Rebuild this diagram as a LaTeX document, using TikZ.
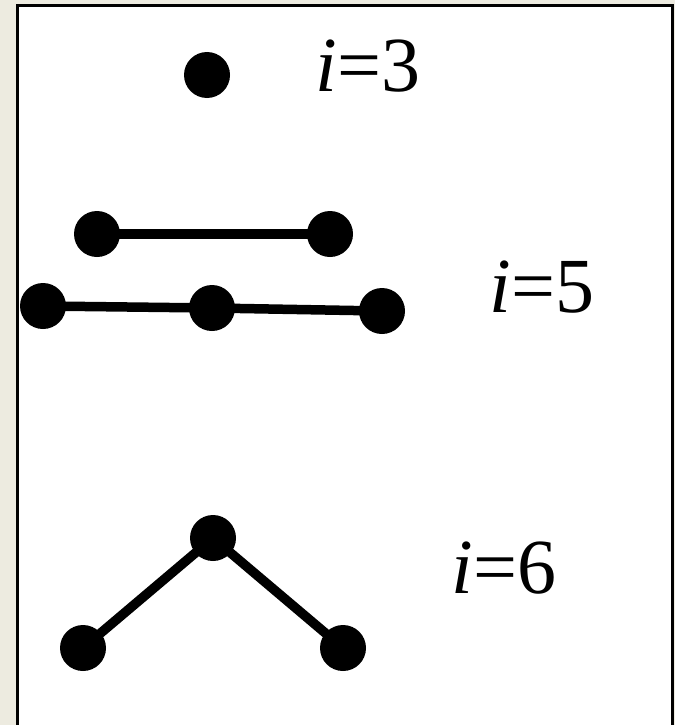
\documentclass[tikz,border=0pt]{standalone}
\usepackage{fontspec}
\setmainfont{Liberation Serif}
\definecolor{bgbeige}{RGB}{237,235,224}
\begin{document}
\begin{tikzpicture}[x=1pt,y=-1pt,
  dot/.style={circle,fill=black,inner sep=0pt,minimum size=46pt},
  edge/.style={line width=9.5pt},
  lbl/.style={anchor=base,inner sep=0pt,font=\fontsize{78}{80}\selectfont}]
\useasboundingbox (0,0) rectangle (675,725);
\clip (0,0) rectangle (675,725);
\fill[bgbeige] (0,0) rectangle (675,725);
\draw[line width=3pt,fill=white] (17,6) rectangle (672.5,740);
% i=3
\node[dot] (a) at (207,75) {};
\node[lbl] (la) at (368,92) {\textit{i}=3};
% i=5
\node[dot] (b1) at (97,234) {};
\node[dot] (b2) at (330,234) {};
\node[dot] (c1) at (43,306) {};
\node[dot] (c2) at (212,308) {};
\node[dot] (c3) at (382,311) {};
\draw[edge] (b1.center) -- (b2.center);
\draw[edge] (c1.center) -- (c2.center) -- (c3.center);
\node[lbl] (lb) at (542,312) {\textit{i}=5};
% i=6
\node[dot] (d1) at (213,538) {};
\node[dot] (d2) at (83,648) {};
\node[dot] (d3) at (343,648) {};
\draw[edge] (d2.center) -- (d1.center) -- (d3.center);
\node[lbl] (lc) at (504,593) {\textit{i}=6};
\end{tikzpicture}
\end{document}
